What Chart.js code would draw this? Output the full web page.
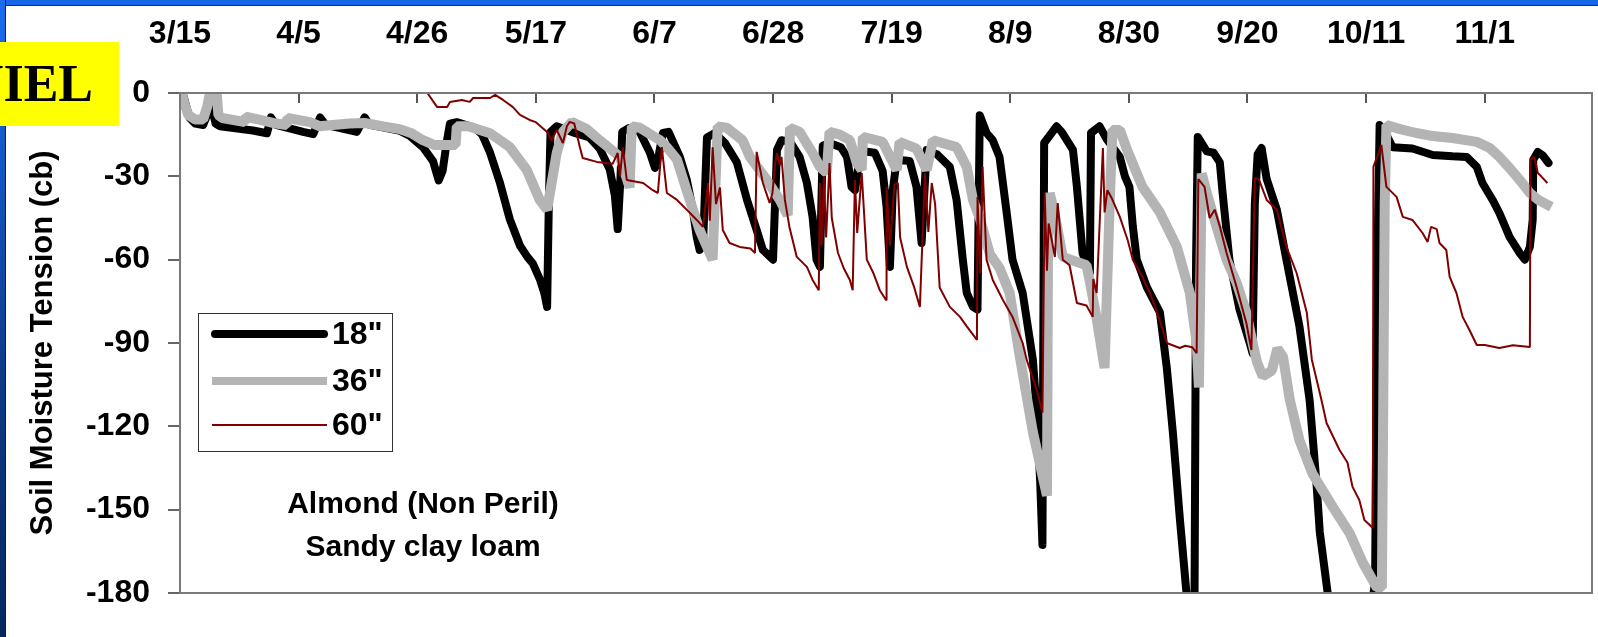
<!DOCTYPE html>
<html>
<head>
<meta charset="utf-8">
<script src="https://cdn.jsdelivr.net/npm/chart.js@4/dist/chart.umd.min.js"></script>
<style>
    html, body { margin: 0; padding: 0; background: #fff; width: 1598px; height: 637px; overflow: hidden; }
    #topbar { position: absolute; left: 0; top: 0; width: 1598px; height: 5px; background: #1666e8; border-bottom: 1px solid #0b2f6e; }
    #leftbar { position: absolute; left: 0; top: 0; width: 5px; height: 637px; background: linear-gradient(#1a6cf0, #0c3a86 60%, #08275e); border-right: 1px solid #061c46; }
    #chartBox { position: absolute; left: 0; top: 0; width: 1598px; height: 637px; z-index: 1; }
    #tag { position: absolute; left: 0; top: 42px; width: 119px; height: 84px; background: #ffff00; overflow: hidden; z-index: 2; }
    #tag span { position: absolute; right: 26px; top: 16px; font: bold 52px/52px "Liberation Serif", "Times New Roman", serif; color: #000; white-space: nowrap; }
</style>
</head>
<body>
<div id="topbar"></div>
<div id="leftbar"></div>
<div id="tag"><span>NIEL</span></div>
<div id="chartBox"><canvas id="soilChart" width="1598" height="637"></canvas></div>
<script>
// x = days after 3/15, y = tension (cb)
const dateLabels = ['3/15', '4/5', '4/26', '5/17', '6/7', '6/28', '7/19', '8/9', '8/30', '9/20', '10/11', '11/1'];
const seriesNames = ['18"', '36"', '60"'];
const noteLines = ['Almond (Non Peril)', 'Sandy clay loam'];

const depth18 = [
    [0.6, -1], [1.7, -9], [2.7, -11], [4.1, -11.5], [5.0, -7], [5.6, -5], [6.3, -11], [7.1, -12],
    [12.9, -13.5], [15.4, -14.5], [16.1, -8.8], [17.0, -11.5], [21.8, -14], [23.6, -14.8], [24.8, -8.8],
    [25.8, -11.5], [31.3, -14], [32.7, -8.8], [33.6, -11.5], [38.8, -13.5], [40.7, -15.5], [43.0, -19.5],
    [44.8, -24.5], [45.8, -31.5], [46.5, -28], [47.2, -18], [47.8, -11], [49, -10.5], [52.2, -12.5],
    [53.5, -15], [54.9, -21.5], [56.6, -32], [58.4, -45.5], [60.2, -55], [61.5, -59], [62.5, -61.5],
    [63.7, -67], [64.5, -72], [65.0, -77], [65.3, -40], [65.6, -14], [66.7, -12], [68, -13], [70, -14.5],
    [72.5, -16], [74.3, -20], [76.1, -27.5], [77, -37], [77.5, -49], [78, -30], [78.3, -14], [79.5, -12.6],
    [81.4, -14], [83.2, -21.5], [84.1, -27], [84.8, -22], [85.5, -14.4], [86.5, -14], [88.5, -23],
    [89.7, -31], [90.8, -42], [91.5, -52], [92, -56.5], [92.6, -55], [93.3, -16], [94.7, -14.4],
    [96.5, -18], [98.6, -25], [100.4, -38.5], [102.1, -49.3], [103.2, -56.5], [105, -60], [105.7, -20.5],
    [106.5, -17], [108, -17.5], [109.7, -23], [111, -32.4], [112, -44.6], [112.7, -60], [113.3, -62.6],
    [113.8, -19], [115, -18], [117, -19.5], [118.1, -23], [118.9, -33.8], [119.5, -35], [120.2, -25],
    [121, -21], [123, -21.5], [124.4, -28], [125.1, -41], [125.7, -62.6], [126.2, -35], [126.9, -24],
    [129.2, -24.5], [130.4, -33.8], [131.3, -54], [132.2, -20.5], [134, -22], [136.3, -26.6],
    [137.5, -38.5], [138.6, -60], [139.3, -72], [140.4, -77], [141.2, -78], [141.6, -8], [142.8, -14.4],
    [143.9, -17], [145.1, -23], [146.3, -42], [147.4, -60], [149.2, -72], [151, -96], [151.7, -115],
    [152.3, -140], [152.7, -162.7], [153, -18], [155.2, -12], [156.1, -14], [158.1, -20.5], [158.8, -33.8],
    [159.8, -57.6], [161.1, -64.8], [161.3, -14.4], [162.8, -12], [164.2, -17], [166.4, -23], [167.3, -30],
    [168.1, -33.8], [168.7, -48], [169.4, -60], [171.2, -70], [173.5, -79], [174.7, -98.6], [175.8, -122.4],
    [177, -152.6], [178.2, -180], [178.8, -195], [179.6, -195], [179.9, -60], [180.2, -15.8], [181.8, -21],
    [183, -21.5], [184.1, -25], [184.6, -36], [185.8, -60], [187.6, -78], [189.4, -90], [189.9, -93.7],
    [190.3, -40], [190.8, -22], [191.5, -19.8], [192.4, -31], [194.2, -42], [195.9, -60], [198.2, -84],
    [200, -110.5], [201.2, -140], [201.8, -158], [203.2, -180], [205, -200], [210, -200], [211.6, -176],
    [212.0, -60], [212.4, -11.5], [213.6, -15], [214.7, -19.5], [218.2, -20], [221.8, -22.3], [225.3, -22.8],
    [227.8, -23], [229.6, -26.6], [230.6, -32.4], [232.4, -38.5], [233.6, -43.2], [235.4, -51.8],
    [237.2, -57.6], [238.1, -60], [239, -55.4], [239.5, -45.7], [239.6, -24], [240.4, -21.2], [241.3, -22.5],
    [242.3, -25.2]
];

const depth36 = [
    [0.3, 0], [0.8, -4], [1.5, -8], [2.7, -9.5], [4.1, -9.5], [4.8, -5], [5.3, 0], [6.5, 0], [6.8, -8],
    [7.5, -9], [11.5, -10.5], [11.6, -8.5], [15, -10], [17, -11], [18.9, -11.5], [19, -9], [23, -10.5],
    [24.8, -12], [27, -11.5], [30, -11], [32.7, -10.8], [36, -12], [38.9, -13], [41, -14.5], [43, -17],
    [44.2, -18], [45, -18.7], [48.8, -18.7], [49, -12], [51, -12], [54.9, -14.5], [58.4, -19.5],
    [61.4, -27.7], [63.7, -38.5], [65, -42], [66.7, -21.6], [67.8, -14], [69.4, -10.4], [72, -13],
    [74.3, -17], [77.9, -23], [79.6, -34], [80, -12], [81.4, -12.5], [85, -17], [86.2, -19.5], [88, -24],
    [89.7, -35], [92, -49.3], [94.3, -60], [95.2, -12], [96.8, -12.5], [99.6, -17], [100.9, -23],
    [103.9, -31.3], [106.2, -38.5], [107.6, -44], [108, -12.6], [109.7, -14], [112, -21.6], [113.3, -26.6],
    [114.5, -28.8], [115, -14], [116.8, -15], [118.6, -17], [119.8, -25], [120.7, -27.7], [120.9, -15.8],
    [124.4, -17.6], [126.9, -27.7], [127.4, -17.6], [130.4, -20], [132.2, -27.7], [133.3, -17],
    [137.5, -19.5], [139.3, -26.6], [140.4, -38.5], [141.6, -45], [143.4, -58], [145.1, -63], [146.9, -72],
    [148.7, -95], [151, -122], [153.5, -145], [153.7, -50], [154, -36], [155, -45], [156.3, -59],
    [160.5, -62], [161.1, -68], [162.2, -80], [163.7, -99], [164.6, -40], [165.1, -13.3], [166.4, -13.3],
    [167.6, -20], [170.4, -33.8], [173.5, -43], [176.5, -55.4], [178.8, -72], [180, -90], [180.4, -106],
    [180.9, -29], [181.8, -36], [183.5, -48], [185.3, -60], [187.1, -68.4], [188.8, -79], [189.9, -90],
    [190.7, -97], [191.7, -102], [193.3, -100], [194.3, -92], [195.3, -95], [196.5, -110.5], [198.2, -125],
    [200.5, -137], [204.1, -149], [207.1, -158.5], [209.4, -169], [211.9, -178], [212.8, -178],
    [213.3, -40], [213.6, -11.5], [216, -13], [218.9, -14.4], [221.8, -15.5], [225.3, -16.2],
    [229.6, -17.6], [231.9, -19.8], [233.6, -23], [235.4, -27], [237.2, -31.3], [239, -36], [240.5, -38.5],
    [242.8, -41]
];

const depth60 = [
    [0, 0], [43.8, 0], [45.5, -5], [47.3, -5], [47.8, -3.2], [49.9, -2.5], [51.3, -3.2], [51.9, -1.8],
    [54.9, -1.8], [55.8, -0.7], [57.2, -2.5], [58.9, -5], [60.2, -7.9], [61.9, -9.7], [63, -10.5], [65, -14],
    [65.8, -17], [66.7, -13.3], [67.8, -18], [68.5, -12], [69, -10.4], [69.8, -11], [70.8, -19.5],
    [71.3, -23.4], [73.8, -24.8], [76.6, -25.5], [77.5, -21.6], [77.9, -30], [78.4, -19.5], [79.1, -31.3],
    [82, -32.4], [83.7, -35], [84.6, -36], [85.3, -19.5], [86.2, -36], [88, -38.5], [89.7, -42],
    [91.5, -45.7], [92.6, -48.2], [93.5, -32.4], [93.8, -46], [94.3, -19.5], [94.9, -40], [95.6, -34],
    [96.1, -49.3], [97.3, -54], [99.1, -55.4], [101, -56], [101.8, -57.6], [102.1, -21.2], [103.2, -32.4],
    [104.4, -39.6], [104.9, -36], [105.3, -26.6], [105.7, -21.6], [106.2, -26], [106.5, -23], [107.1, -38.5],
    [107.9, -48.2], [109.2, -59], [111, -62.6], [112, -67.3], [113.1, -71], [113.3, -32.4], [113.6, -55],
    [114, -30], [114.4, -52], [115, -25.2], [115.4, -45], [116.5, -57.6], [117.5, -63], [118.6, -67.3],
    [119.1, -71], [119.5, -31.3], [119.9, -50.4], [120.7, -28.8], [121.6, -60], [122.8, -65], [123.9, -71],
    [125, -74.5], [125.1, -33.8], [125.7, -55], [126.5, -33], [127.1, -32.4], [127.5, -52], [128.7, -62.6],
    [130, -70], [131, -77], [131.9, -28.8], [132.5, -50], [133.1, -32.4], [133.7, -40], [134.5, -70],
    [136.3, -77], [138.1, -80.6], [139.3, -84], [141.1, -88.9], [141.2, -37.4], [141.7, -65], [142.1, -26.6],
    [142.8, -60], [143.9, -67.3], [145.7, -74.5], [147.4, -80.6], [149.2, -90], [149.9, -96], [151.7, -107],
    [152.7, -115], [153.1, -36], [153.5, -64], [153.8, -47], [154.9, -59], [155.4, -39.6], [156.3, -60],
    [157.5, -62], [158.8, -75.6], [160.5, -76.5], [161.6, -80.6], [161.7, -67], [162.3, -72], [163.4, -19.8],
    [163.7, -43], [164.2, -35], [165, -38], [166.4, -44.6], [167.8, -53], [168.7, -60], [170.4, -66.2],
    [171.7, -72], [172.5, -76], [173.8, -84], [174.7, -90], [177, -91.8], [178, -91], [179.2, -91.5],
    [180, -93.7], [180.3, -31], [181.4, -33.8], [182.3, -45], [183.2, -42], [184.1, -48], [185.3, -57.6],
    [187.1, -70], [188.8, -82.8], [189.7, -92.5], [190.3, -30.6], [191, -31], [192.4, -38.5], [194.2, -42],
    [195.9, -55.4], [197.7, -64.8], [199.5, -79], [200.4, -96], [202.1, -110.5], [203, -118.8],
    [205.3, -128.5], [206.7, -133], [207.6, -141.8], [208.8, -146.5], [209.7, -153.7], [211.2, -156.6],
    [211.3, -26.6], [212.7, -18.7], [213.6, -33.8], [215.4, -37.4], [216.5, -44.6], [218.2, -45.7],
    [220, -50.4], [220.9, -53.6], [221.5, -48.2], [222.5, -49], [223, -54], [224.2, -56.5], [224.8, -66.2],
    [226, -72], [227.1, -80.6], [228.3, -85.3], [229.6, -90.7], [231, -90.7], [233.6, -91.8], [236, -90.8],
    [239, -91.4], [239.1, -24], [239.8, -23], [240.4, -28.8], [241, -30], [242.1, -32.4]
];

const FONT = '"Liberation Sans", Arial, sans-serif';
const lineStyles = [
    { color: '#000000', width: 8, cap: 'round' },
    { color: '#b4b4b4', width: 10, cap: 'butt' },
    { color: '#800000', width: 2, cap: 'butt' }
];

// frame, inside ticks on the top axis, legend box and the note
const framePlugin = {
    id: 'frame',
    afterDatasetsDraw(chart) {
        const { ctx, chartArea: a, scales } = chart;
        ctx.save();

        // date ticks pointing into the plot
        ctx.strokeStyle = '#555';
        ctx.lineWidth = 2;
        dateLabels.forEach((_, i) => {
            if (i === 0) return;
            const x = Math.round(scales.x.getPixelForValue(i * 21));
            ctx.beginPath();
            ctx.moveTo(x, a.top);
            ctx.lineTo(x, a.top + 10);
            ctx.stroke();
        });

        // plot border
        ctx.strokeStyle = '#7a7a7a';
        ctx.lineWidth = 2;
        ctx.strokeRect(a.left, a.top, a.right - a.left, a.bottom - a.top);

        // legend
        const lx = 198, ly = 313, lw = 194, lh = 138;
        ctx.fillStyle = '#fff';
        ctx.fillRect(lx, ly, lw, lh);
        ctx.strokeStyle = '#333';
        ctx.lineWidth = 1;
        ctx.strokeRect(lx + 0.5, ly + 0.5, lw, lh);
        const rows = [334, 381, 425];
        ctx.font = 'bold 32px ' + FONT;
        ctx.textBaseline = 'middle';
        ctx.textAlign = 'left';
        seriesNames.forEach((name, i) => {
            const st = lineStyles[i];
            ctx.strokeStyle = st.color;
            ctx.lineWidth = i === 1 ? 8 : st.width;
            ctx.lineCap = st.cap;
            ctx.beginPath();
            ctx.moveTo(i === 0 ? 215 : 212, rows[i]);
            ctx.lineTo(i === 0 ? 324 : 327, rows[i]);
            ctx.stroke();
            ctx.fillStyle = '#000';
            ctx.fillText(name, 332, rows[i] + 1);
        });

        // note text
        ctx.font = 'bold 30px ' + FONT;
        ctx.textAlign = 'center';
        ctx.fillText(noteLines[0], 423, 505);
        ctx.fillText(noteLines[1], 423, 548);
        ctx.restore();
    }
};

const toPoints = arr => arr.map(([x, y]) => ({ x, y }));

new Chart(document.getElementById('soilChart'), {
    type: 'line',
    data: {
        datasets: [depth18, depth36, depth60].map((d, i) => ({
            label: seriesNames[i],
            data: toPoints(d),
            borderColor: lineStyles[i].color,
            borderWidth: lineStyles[i].width,
            borderCapStyle: lineStyles[i].cap,
            borderJoinStyle: i === 0 ? 'round' : 'bevel',
            pointRadius: 0,
            tension: 0,
            order: 3 - i
        }))
    },
    options: {
        responsive: false,
        animation: false,
        devicePixelRatio: 1,
        layout: { padding: { left: 0, top: 0, right: 6, bottom: 44 } },
        plugins: { legend: { display: false }, tooltip: { enabled: false } },
        scales: {
            x: {
                type: 'linear',
                position: 'top',
                min: 0,
                max: 250,
                afterBuildTicks: s => { s.ticks = dateLabels.map((_, i) => ({ value: i * 21 })); },
                afterFit: s => { s.height = 93; },
                grid: { display: false },
                border: { display: false },
                ticks: {
                    autoSkip: false,
                    maxRotation: 0,
                    padding: 32,
                    color: '#000',
                    font: { family: FONT, size: 32, weight: 'bold' },
                    callback: (v, i) => dateLabels[i]
                }
            },
            y: {
                min: -180,
                max: 0,
                afterFit: s => { s.width = 180; },
                grid: { drawOnChartArea: false, drawTicks: true, tickLength: 12, color: '#666', lineWidth: 2 },
                border: { display: false },
                ticks: {
                    stepSize: 30,
                    padding: 18,
                    color: '#000',
                    font: { family: FONT, size: 32, weight: 'bold' }
                },
                title: {
                    display: true,
                    text: 'Soil Moisture Tension (cb)',
                    color: '#000',
                    font: { family: FONT, size: 31, weight: 'bold' },
                    padding: { top: 25, bottom: 0 }
                }
            }
        }
    },
    plugins: [framePlugin]
});
</script>
</body>
</html>
